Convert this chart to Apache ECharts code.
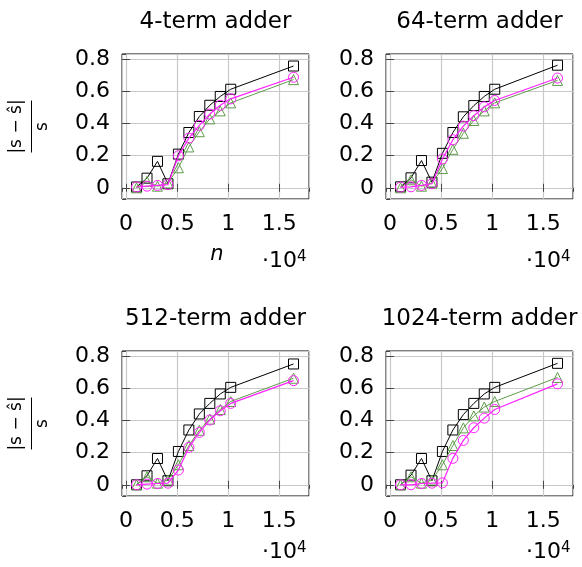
<!DOCTYPE html>
<html>
<head>
<meta charset="utf-8">
<script src="https://cdn.jsdelivr.net/npm/echarts@6/dist/echarts.min.js"></script>
<style>
  html, body { margin: 0; padding: 0; background: #fff; }
  #chart { width: 582px; height: 567px; }
</style>
</head>
<body>
<div id="chart"></div>
<script>
// problem size n (x axis, shown in units of 10^4)
const nValues = [1024, 2048, 3072, 4096, 5120, 6144, 7168, 8192, 9216, 10240, 16384]

const titles = ['4-term adder', '64-term adder', '512-term adder', '1024-term adder']

// relative error |s - s^| / s, one array per marker type and adder size
const adder4Square = [0.005, 0.06, 0.165, 0.025, 0.21, 0.345, 0.445, 0.515, 0.57, 0.615, 0.76]
const adder4Triangle = [0.0, 0.04, 0.01, 0.03, 0.125, 0.255, 0.35, 0.43, 0.48, 0.53, 0.675]
const adder4Circle = [0.005, 0.01, 0.015, 0.02, 0.2, 0.31, 0.39, 0.46, 0.515, 0.555, 0.69]

const adder64Square = [0.006, 0.062, 0.17, 0.035, 0.215, 0.345, 0.443, 0.513, 0.57, 0.615, 0.765]
const adder64Triangle = [0.0, 0.05, 0.01, 0.03, 0.12, 0.24, 0.34, 0.42, 0.48, 0.53, 0.67]
const adder64Circle = [0.004, 0.006, 0.015, 0.025, 0.18, 0.3, 0.385, 0.45, 0.505, 0.545, 0.685]

const adder512Square = [0.0, 0.056, 0.164, 0.025, 0.208, 0.342, 0.442, 0.508, 0.567, 0.608, 0.754]
const adder512Triangle = [0.0, 0.05, 0.01, 0.03, 0.125, 0.245, 0.34, 0.41, 0.47, 0.52, 0.665]
const adder512Circle = [0.0, 0.004, 0.008, 0.01, 0.092, 0.233, 0.327, 0.404, 0.462, 0.508, 0.65]

const adder1024Square = [0.0, 0.06, 0.164, 0.025, 0.208, 0.342, 0.438, 0.508, 0.567, 0.608, 0.758]
const adder1024Triangle = [0.0, 0.05, 0.01, 0.03, 0.125, 0.245, 0.355, 0.43, 0.485, 0.52, 0.67]
const adder1024Circle = [0.0, 0.0, 0.008, 0.01, 0.012, 0.165, 0.277, 0.356, 0.416, 0.47, 0.63]

const xTicks = [0, 5000, 10000, 15000]
const yTicks = [0, 0.2, 0.4, 0.6, 0.8]

const panelData = [
  [adder4Square, adder4Triangle, adder4Circle],
  [adder64Square, adder64Triangle, adder64Circle],
  [adder512Square, adder512Triangle, adder512Circle],
  [adder1024Square, adder1024Triangle, adder1024Circle]
]

const font = 'DejaVu Sans'
const colors = {
  square: '#000000',
  triangle: '#5f9c4a',
  circle: '#ff22ff',
  grid: '#c8c8c8',
  tick: '#444'
}

// plot boxes (pixels)
const boxes = [
  { left: 122, top: 54 },
  { left: 386, top: 54 },
  { left: 122, top: 351 },
  { left: 386, top: 351 }
]
const boxW = 187
const boxH = 145

const chart = echarts.init(document.getElementById('chart'))

const grid = []
const xAxis = []
const yAxis = []
const series = []
const graphic = []

const markerDefs = [
  { symbol: 'rect', color: colors.square, width: 1 },
  { symbol: 'triangle', color: colors.triangle, width: 1 },
  { symbol: 'circle', color: colors.circle, width: 1.2 }
]

boxes.forEach((b, i) => {
  grid.push({
    left: b.left, top: b.top, width: boxW, height: boxH,
    show: true, borderColor: '#000', borderWidth: 1, backgroundColor: 'transparent'
  })

  const xBase = {
    type: 'value', gridIndex: i, min: -400, max: 17900,
    minInterval: 5000, maxInterval: 5000, splitNumber: 4
  }
  const yBase = {
    type: 'value', gridIndex: i, min: -0.07, max: 0.835,
    minInterval: 0.2, maxInterval: 0.2, splitNumber: 4
  }

  xAxis.push({
    ...xBase,
    position: 'bottom',
    axisLine: { show: false },
    axisTick: { show: true, inside: true, length: 4, lineStyle: { color: colors.tick } },
    splitLine: { show: true, lineStyle: { color: colors.grid, width: 1.2 } },
    axisLabel: {
      show: true, margin: 14, fontFamily: font, fontSize: 22, color: '#000',
      showMinLabel: false, showMaxLabel: false,
      formatter: v => xTicks.includes(v) ? String(v / 10000) : ''
    }
  })
  xAxis.push({
    ...xBase,
    position: 'top',
    axisLine: { show: false },
    axisTick: { show: true, inside: true, length: 4, lineStyle: { color: colors.tick } },
    splitLine: { show: false },
    axisLabel: { show: false }
  })
  yAxis.push({
    ...yBase,
    position: 'left',
    axisLine: { show: false },
    axisTick: { show: true, inside: true, length: 4, lineStyle: { color: colors.tick } },
    splitLine: { show: true, lineStyle: { color: colors.grid, width: 1.2 } },
    axisLabel: {
      show: true, margin: 12, fontFamily: font, fontSize: 22, color: '#000',
      showMinLabel: false, showMaxLabel: false,
      formatter: v => {
        const hit = yTicks.find(t => Math.abs(t - v) < 1e-9)
        return hit === undefined ? '' : String(hit)
      }
    }
  })
  yAxis.push({
    ...yBase,
    position: 'right',
    axisLine: { show: false },
    axisTick: { show: true, inside: true, length: 4, lineStyle: { color: colors.tick } },
    splitLine: { show: false },
    axisLabel: { show: false }
  })

  panelData[i].forEach((values, k) => {
    const m = markerDefs[k]
    series.push({
      type: 'line',
      xAxisIndex: 2 * i,
      yAxisIndex: 2 * i,
      data: nValues.map((n, j) => [n, values[j]]),
      symbol: m.symbol,
      symbolSize: 10,
      showAllSymbol: true,
      lineStyle: { color: m.color, width: m.width },
      itemStyle: { color: 'rgba(0,0,0,0)', borderColor: m.color, borderWidth: 1 },
      emphasis: { disabled: true },
      z: 2 + k
    })
  })

  // panel title
  graphic.push({
    type: 'text',
    x: b.left + boxW / 2,
    y: b.top - 32,
    style: {
      text: titles[i], fontFamily: font, fontSize: 23, fill: '#000',
      align: 'center', verticalAlign: 'middle'
    }
  })

  // x scale factor
  graphic.push({
    type: 'text',
    x: b.left + 140,
    y: b.top + boxH + (i < 2 ? 62 : 56),
    style: {
      text: '{a|·10}{b|4}',
      rich: {
        a: { fontFamily: font, fontSize: 22, fill: '#000' },
        b: { fontFamily: font, fontSize: 15, fill: '#000', verticalAlign: 'top' }
      },
      align: 'left', verticalAlign: 'middle'
    }
  })

  // y axis label |s - s^| / s on the left column
  if (i % 2 === 0) {
    graphic.push({
      type: 'group',
      x: 31.5,
      y: b.top + boxH / 2,
      rotation: Math.PI / 2,
      children: [
        {
          type: 'text', x: 0, y: -15,
          style: {
            text: '|s − ŝ|', fontFamily: font, fontSize: 17, fill: '#000',
            align: 'center', verticalAlign: 'middle'
          }
        },
        {
          type: 'line',
          shape: { x1: -26, y1: 0, x2: 26, y2: 0 },
          style: { stroke: '#000', lineWidth: 1 }
        },
        {
          type: 'text', x: 0, y: 11,
          style: {
            text: 's', fontFamily: font, fontSize: 17, fill: '#000',
            align: 'center', verticalAlign: 'middle'
          }
        }
      ]
    })
  }
})

// x axis name only on the first panel
graphic.push({
  type: 'text',
  x: 217,
  y: 255,
  style: {
    text: 'n', fontFamily: font, fontSize: 21, fontStyle: 'italic', fill: '#000',
    align: 'center', verticalAlign: 'middle'
  }
})

chart.setOption({
  animation: false,
  backgroundColor: '#fff',
  grid,
  xAxis,
  yAxis,
  series,
  graphic
})
</script>
</body>
</html>
